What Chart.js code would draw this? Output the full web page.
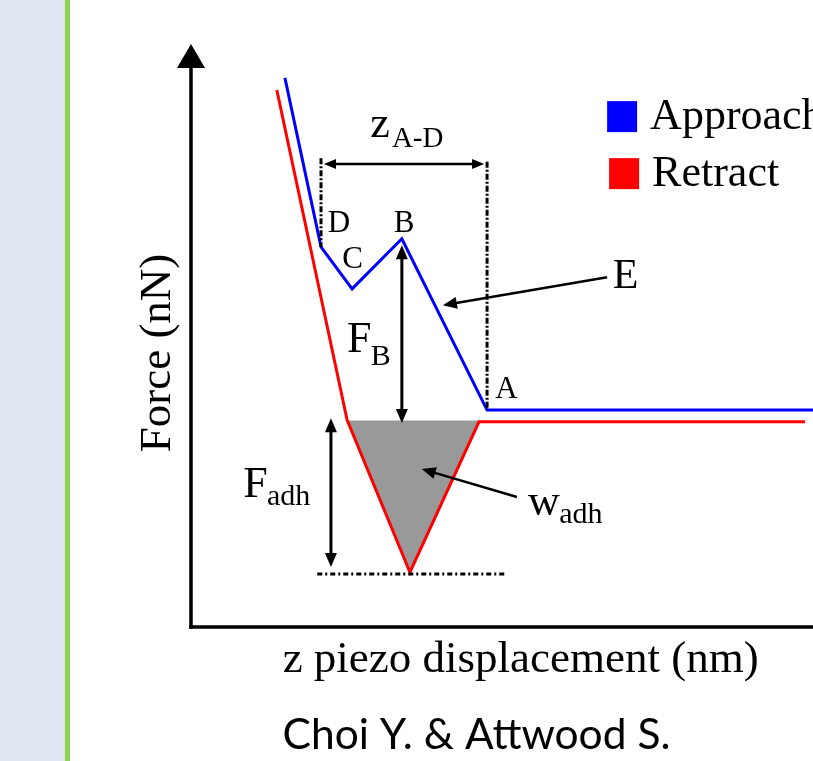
<!DOCTYPE html>
<html><head><meta charset="utf-8">
<script src="https://cdn.jsdelivr.net/npm/chart.js@4.4.1/dist/chart.umd.min.js"></script>
<style>
html,body{margin:0;padding:0;background:#fff;width:813px;height:761px;overflow:hidden;}
#panel{position:absolute;left:0;top:0;width:65px;height:761px;background:#dfe6f1;}
#bar{position:absolute;left:65px;top:0;width:5px;height:761px;background:#92d050;}
#wrap{position:absolute;left:0;top:0;width:813px;height:761px;}
</style></head><body>
<div id="panel"></div><div id="bar"></div>
<div id="wrap"><canvas id="c" width="813" height="761"></canvas></div>
<script>
// ---- data (arbitrary units: displacement 0-100, force 0-100) ----
const approachX = [15.1, 20.9, 25.9, 33.9, 47.6, 100];
const approachY = [94.2, 65.2, 58.0, 66.6, 37.2, 37.2];
const retractX  = [13.8, 25.1, 35.2, 46.3, 98.7];
const retractY  = [92.1, 35.5, 9.4, 35.2, 35.2];
const adhesionX = [25.1, 35.2, 46.3];
const adhesionY = [35.5, 9.4, 35.2];
const adhesionBase = 35.4;
const seriesLabels = ['Approach', 'Retract'];
const xTitle = 'z piezo displacement (nm)';
const yTitle = 'Force (nN)';
const caption = 'Choi Y. & Attwood S.';
// point label indices on approach curve
const pointNames = {D:1, C:2, B:3, A:4};

const toPts = (xs, ys) => xs.map((v, i) => ({x: v, y: ys[i]}));
const SERIF = '"Liberation Serif", "Times New Roman", serif';

const annot = {
  id: 'annot',
  afterDatasetsDraw(chart) {
    const {ctx, scales: {x, y}} = chart;
    const X = v => x.getPixelForValue(v), Y = v => y.getPixelForValue(v);
    ctx.save();
    ctx.fillStyle = '#000'; ctx.strokeStyle = '#000';

    const arrowHead = (x1, y1, x2, y2, len, hw) => {
      const a = Math.atan2(y2 - y1, x2 - x1);
      ctx.beginPath();
      ctx.moveTo(x2, y2);
      ctx.lineTo(x2 - len*Math.cos(a) + hw*Math.sin(a), y2 - len*Math.sin(a) - hw*Math.cos(a));
      ctx.lineTo(x2 - len*Math.cos(a) - hw*Math.sin(a), y2 - len*Math.sin(a) + hw*Math.cos(a));
      ctx.closePath(); ctx.fill();
    };
    const arrow = (x1, y1, x2, y2, lw, both, len = 13, hw = 6) => {
      const a = Math.atan2(y2 - y1, x2 - x1);
      ctx.lineWidth = lw; ctx.setLineDash([]);
      ctx.beginPath();
      ctx.moveTo(both ? x1 + (len-2)*Math.cos(a) : x1, both ? y1 + (len-2)*Math.sin(a) : y1);
      ctx.lineTo(x2 - (len-2)*Math.cos(a), y2 - (len-2)*Math.sin(a));
      ctx.stroke();
      arrowHead(x1, y1, x2, y2, len, hw);
      if (both) arrowHead(x2, y2, x1, y1, len, hw);
    };
    const text = (s, xv, yv, size, align = 'left') => {
      ctx.font = size + 'px ' + SERIF;
      ctx.textAlign = align; ctx.textBaseline = 'alphabetic';
      ctx.fillText(s, X(xv), Y(yv));
    };

    // axes
    ctx.lineWidth = 3.5; ctx.setLineDash([]);
    ctx.beginPath(); ctx.moveTo(X(0), Y(0) + 1.5); ctx.lineTo(X(0), Y(100) + 22); ctx.stroke();
    ctx.beginPath(); ctx.moveTo(X(0) - 2, Y(0)); ctx.lineTo(X(100), Y(0)); ctx.stroke();
    ctx.beginPath();
    ctx.moveTo(X(0), Y(100)); ctx.lineTo(X(0) - 14, Y(100) + 24); ctx.lineTo(X(0) + 14, Y(100) + 24);
    ctx.closePath(); ctx.fill();

    const D = pointNames.D, C = pointNames.C, B = pointNames.B, A = pointNames.A;
    // dashed guides
    ctx.lineWidth = 3; ctx.setLineDash([6, 2, 2, 2]);
    ctx.beginPath(); ctx.moveTo(X(approachX[D]), Y(80.4)); ctx.lineTo(X(approachX[D]), Y(approachY[D])); ctx.stroke();
    ctx.beginPath(); ctx.moveTo(X(approachX[A]), Y(79.8)); ctx.lineTo(X(approachX[A]), Y(approachY[A])); ctx.stroke();
    ctx.setLineDash([5, 3, 2, 3]); ctx.lineWidth = 3;
    ctx.beginPath(); ctx.moveTo(X(20.3), Y(retractY[2] - 0.3)); ctx.lineTo(X(50.5), Y(retractY[2] - 0.3)); ctx.stroke();
    ctx.setLineDash([]);

    // z A-D arrow
    arrow(X(approachX[D]) + 3, Y(79.4), X(approachX[A]) - 3, Y(79.4), 2.5, true, 12, 5);
    text('z', 28.8, 84.0, 44); text('A-D', 32.3, 82.3, 29);

    // point labels
    text('D', 22.0, 67.8, 31); text('C', 24.3, 61.6, 31);
    text('B', 32.6, 67.8, 31); text('A', 48.9, 39.3, 31);

    // F_B
    arrow(X(approachX[B]), Y(65.5), X(approachX[B]), Y(35.0), 3, true, 14, 6);
    text('F', 25.1, 47.2, 44); text('B', 28.9, 44.9, 30);

    // E
    arrow(X(66.9), Y(60.0), X(40.5), Y(55.2), 2.5, false, 14, 6);
    text('E', 67.8, 58.1, 42);

    // F_adh
    arrow(X(22.5), Y(35.8), X(22.5), Y(10.3), 3, true, 14, 6);
    text('F', 8.4, 22.3, 44); text('adh', 12.2, 20.9, 30);

    // w_adh
    arrow(X(52.4), Y(22.3), X(37.1), Y(27.1), 2.5, false, 14, 6);
    text('w', 54.2, 19.2, 44); text('adh', 59.2, 17.8, 30);

    // legend
    const ds = chart.data.datasets.filter(d => seriesLabels.includes(d.label));
    ds.forEach((d, i) => {
      const sx = X(66.9) + i * 2, sy = Y(90.2) + i * 57;
      ctx.fillStyle = d.borderColor;
      ctx.fillRect(sx, sy, 30, 31);
      ctx.fillStyle = '#000';
      ctx.font = '44px ' + SERIF; ctx.textAlign = 'left'; ctx.textBaseline = 'alphabetic';
      ctx.fillText(d.label, sx + 43, sy + 28);
    });

    // axis titles
    ctx.font = '45px ' + SERIF; ctx.textAlign = 'center'; ctx.textBaseline = 'alphabetic';
    ctx.fillText(xTitle, X(53.0), Y(0) + 45);
    ctx.save();
    ctx.translate(X(0) - 21, Y(47.0));
    ctx.rotate(-Math.PI / 2);
    ctx.fillText(yTitle, 0, 0);
    ctx.restore();

    // caption
    let fs = 44;
    ctx.font = fs + 'px Lato, "Open Sans", sans-serif';
    fs = fs * 388 / ctx.measureText(caption).width;
    ctx.font = fs.toFixed(1) + 'px Lato, "Open Sans", sans-serif';
    ctx.fillText(caption, X(45.9), Y(0) + 122);
    ctx.restore();
  }
};

new Chart(document.getElementById('c'), {
  type: 'line',
  data: {
    datasets: [
      {label: 'Approach', data: toPts(approachX, approachY), borderColor: '#0000ff', backgroundColor: '#0000ff',
       borderWidth: 3, pointRadius: 0, tension: 0, fill: false, order: 1},
      {label: 'Retract', data: toPts(retractX, retractY), borderColor: '#ff0000', backgroundColor: '#ff0000',
       borderWidth: 3, pointRadius: 0, tension: 0, fill: false, order: 2},
      {label: 'w_adh', data: toPts(adhesionX, adhesionY), borderColor: 'rgba(0,0,0,0)', backgroundColor: '#999999',
       borderWidth: 0, pointRadius: 0, tension: 0, fill: {value: adhesionBase}, order: 3}
    ]
  },
  options: {
    responsive: false, animation: false, devicePixelRatio: 1, events: [],
    layout: {padding: {left: 191, right: 0, top: 44, bottom: 134}},
    scales: {
      x: {type: 'linear', min: 0, max: 100, display: false},
      y: {type: 'linear', min: 0, max: 100, display: false}
    },
    plugins: {legend: {display: false}, tooltip: {enabled: false}}
  },
  plugins: [annot]
});
</script>
</body></html>
